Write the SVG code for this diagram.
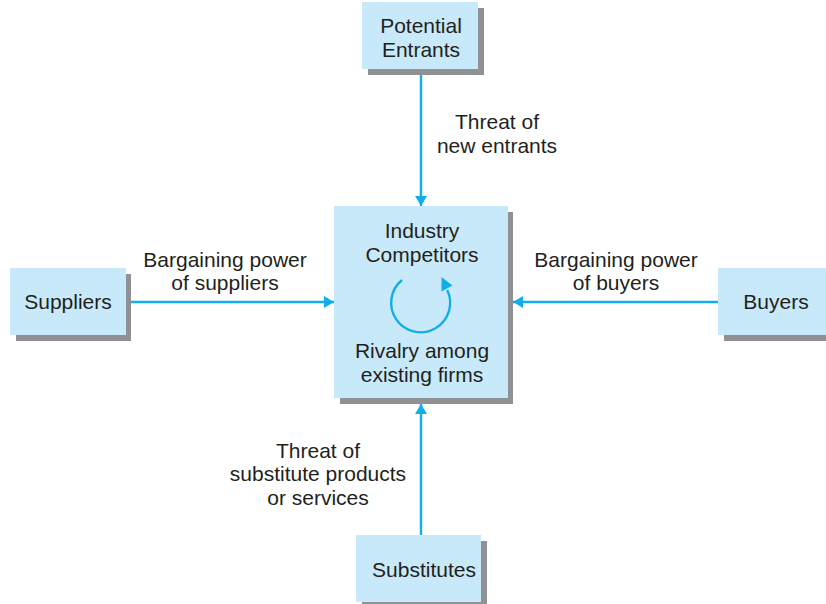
<svg xmlns="http://www.w3.org/2000/svg" width="826" height="604" viewBox="0 0 826 604">
  <defs>
    <style>
      .box { fill: #c8e9f9; }
      .shadow { fill: #909194; }
      .lbl { font-family: "Liberation Sans", Arial, sans-serif; font-size: 21px; fill: #231f20; text-anchor: middle; }
      .conn { stroke: #12aeea; stroke-width: 2.4; fill: none; }
      .head { fill: #12aeea; }
    </style>
    <marker id="arr" markerWidth="10" markerHeight="12" refX="10" refY="6" orient="auto" markerUnits="userSpaceOnUse">
      <path d="M0,0 L10,6 L0,12 Z" class="head"/>
    </marker>
  </defs>
  <rect width="826" height="604" fill="#ffffff"/>

  <g id="connectors">
    <line class="conn" x1="421" y1="75" x2="421" y2="206" marker-end="url(#arr)"/>
    <line class="conn" x1="131" y1="302" x2="334" y2="302" marker-end="url(#arr)"/>
    <line class="conn" x1="718" y1="302" x2="513" y2="302" marker-end="url(#arr)"/>
    <line class="conn" x1="421" y1="535" x2="421" y2="404" marker-end="url(#arr)"/>
  </g>

  <g id="potential-entrants">
    <rect class="shadow" x="368" y="8" width="116" height="67"/>
    <rect class="box" x="362" y="2" width="116" height="67"/>
    <text class="lbl" x="421" y="33">Potential</text>
    <text class="lbl" x="421" y="57">Entrants</text>
  </g>

  <g id="suppliers">
    <rect class="shadow" x="16" y="274" width="115" height="67"/>
    <rect class="box" x="10" y="268" width="116" height="67"/>
    <text class="lbl" x="68" y="309">Suppliers</text>
  </g>

  <g id="buyers">
    <rect class="shadow" x="724" y="274" width="110" height="67"/>
    <rect class="box" x="718" y="268" width="110" height="67"/>
    <text class="lbl" x="776" y="309">Buyers</text>
  </g>

  <g id="substitutes">
    <rect class="shadow" x="362" y="541" width="125" height="67"/>
    <rect class="box" x="356" y="535" width="125" height="67"/>
    <text class="lbl" x="424" y="577">Substitutes</text>
  </g>

  <g id="industry-competitors">
    <rect class="shadow" x="340" y="212" width="173" height="192"/>
    <rect class="box" x="334" y="206" width="174" height="192"/>
    <text class="lbl" x="422" y="238">Industry</text>
    <text class="lbl" x="422" y="262">Competitors</text>
    <path class="conn" stroke-width="3" d="M402,280 A29.5,29.5 0 1 0 447.2,290"/>
    <polygon class="head" points="441.5,277 452.5,285.5 441.5,291.5"/>
    <text class="lbl" x="422" y="358">Rivalry among</text>
    <text class="lbl" x="422" y="382">existing firms</text>
  </g>

  <g id="labels">
    <text class="lbl" x="497" y="129">Threat of</text>
    <text class="lbl" x="497" y="153">new entrants</text>
    <text class="lbl" x="225" y="267">Bargaining power</text>
    <text class="lbl" x="225" y="290">of suppliers</text>
    <text class="lbl" x="616" y="267">Bargaining power</text>
    <text class="lbl" x="616" y="290">of buyers</text>
    <text class="lbl" x="318" y="458">Threat of</text>
    <text class="lbl" x="318" y="481">substitute products</text>
    <text class="lbl" x="318" y="505">or services</text>
  </g>
</svg>
